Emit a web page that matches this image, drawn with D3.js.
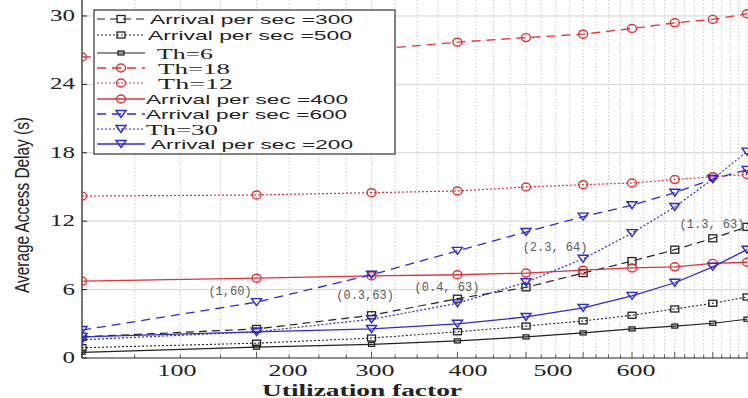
<!DOCTYPE html>
<html>
<head>
<meta charset="utf-8">
<script src="https://cdn.jsdelivr.net/npm/d3@7"></script>
<style>
  html, body { margin: 0; padding: 0; background: #fff; }
  svg { display: block; }
</style>
</head>
<body>
<svg id="chart" width="748" height="398"></svg>
<script>
// ---------------- DATA ----------------
const xCats = [1.5, 2.5, 3.5, 4.5, 5.5, 6.5, 7.5, 8.5, 9.5, 10.5];

const seriesNames = [
  "Arrival per sec =300",
  "Arrival per sec =500",
  "Th=6",
  "Th=18",
  "Th=12",
  "Arrival per sec =400",
  "Arrival per sec =600",
  "Th=30",
  "Arrival per sec =200"
];

const arr300 = [1.85, 2.55, 3.75, 5.2, 6.2, 7.45, 8.5, 9.5, 10.5, 11.5];
const arr500 = [0.9, 1.3, 1.75, 2.3, 2.8, 3.25, 3.75, 4.3, 4.8, 5.35];
const th6    = [0.5, 0.95, 1.2, 1.5, 1.85, 2.2, 2.55, 2.8, 3.05, 3.4];
const th18   = [26.4, 26.75, 27.05, 27.7, 28.1, 28.4, 28.9, 29.4, 29.7, 30.2];
const th12   = [14.2, 14.3, 14.5, 14.65, 15.0, 15.2, 15.35, 15.65, 15.9, 16.1];
const arr400 = [6.75, 7.0, 7.2, 7.3, 7.45, 7.7, 7.9, 8.0, 8.3, 8.4];
const arr600 = [2.45, 4.9, 7.3, 9.4, 11.05, 12.4, 13.4, 14.5, 15.7, 16.5];
const th30   = [1.6, 2.3, 3.4, 4.8, 6.65, 8.7, 10.95, 13.25, 15.7, 18.1];
const arr200 = [1.85, 2.3, 2.55, 3.0, 3.6, 4.4, 5.45, 6.6, 8.0, 9.5];

const seriesValues = [arr300, arr500, th6, th18, th12, arr400, arr600, th30, arr200];

const yTicks = [0, 6, 12, 18, 24, 30];
const xTickValues = [1.981, 2.741, 3.536, 4.642, 5.953, 7.590];
const xTickLabels = ["100", "200", "300", "400", "500", "600"];

const annotationTexts = ["(1,60)", "(0.3,63)", "(0.4, 63)", "(2.3, 64)", "(1.3, 63)"];
const annotationX = [2.313, 3.434, 4.364, 5.988, 9.478];
const annotationY = [5.88, 5.53, 6.23, 9.74, 11.75];

const yTitle = "Average Access Delay (s)";
const xTitle = "Utilization factor";

// ---------------- LAYOUT / STYLE ----------------
const W = 748, H = 398;
const plot = { left: 82, right: 747, top: 0, bottom: 358 };

const RED = "#e63034", BLUE = "#2b2bd6", BLACK = "#222";
const styles = [
  { color: BLACK, dash: "8,5",  marker: "square", mw: 8, mh: 7, sw: 1.2 },
  { color: BLACK, dash: "2,2",  marker: "square", mw: 8, mh: 6, sw: 1.1 },
  { color: BLACK, dash: null,   marker: "square", mw: 6, mh: 4, sw: 1.2 },
  { color: RED,   dash: "9,6",  marker: "circle", mw: 9, mh: 8, sw: 1.3 },
  { color: RED,   dash: "2,2",  marker: "circle", mw: 9, mh: 8, sw: 1.2 },
  { color: RED,   dash: null,   marker: "circle", mw: 9, mh: 8, sw: 1.3 },
  { color: BLUE,  dash: "9,6",  marker: "tri",    mw: 10, mh: 7, sw: 1.3 },
  { color: BLUE,  dash: "2,2",  marker: "tri",    mw: 10, mh: 7, sw: 1.2 },
  { color: BLUE,  dash: null,   marker: "tri",    mw: 10, mh: 7, sw: 1.3 }
];

const svg = d3.select("#chart");
svg.append("rect").attr("width", W).attr("height", H).attr("fill", "#fff");

const x = d3.scaleLog().domain([1.5, 10.5]).range([plot.left, plot.right]);
const y = d3.scaleLinear().domain([0, 31.4]).range([plot.bottom, plot.top]);

svg.append("defs").append("clipPath").attr("id", "clip")
  .append("rect").attr("x", plot.left).attr("y", plot.top)
  .attr("width", W - plot.left).attr("height", plot.bottom - plot.top);

// ---------------- GRID ----------------
const gridVals = d3.range(1.5, 10.76, 0.25);
const grid = svg.append("g");
grid.selectAll("line.v").data(gridVals).join("line")
  .attr("x1", d => x(d)).attr("x2", d => x(d))
  .attr("y1", plot.top).attr("y2", plot.bottom)
  .attr("stroke", "#bdbdbd").attr("stroke-width", 0.8)
  .attr("stroke-dasharray", "1.5,2");
grid.selectAll("line.h").data(yTicks.filter(d => d > 0)).join("line")
  .attr("x1", plot.left).attr("x2", W)
  .attr("y1", d => y(d)).attr("y2", d => y(d))
  .attr("stroke", "#d4d4d4").attr("stroke-width", 1);

// ---------------- AXES ----------------
const axes = svg.append("g");
axes.append("line").attr("x1", plot.left).attr("x2", plot.left)
  .attr("y1", 0).attr("y2", plot.bottom).attr("stroke", "#222").attr("stroke-width", 1.2);
axes.append("line").attr("x1", plot.left).attr("x2", W)
  .attr("y1", plot.bottom).attr("y2", plot.bottom).attr("stroke", "#222").attr("stroke-width", 1.2);

axes.selectAll("line.xt").data(gridVals).join("line")
  .attr("x1", d => x(d)).attr("x2", d => x(d))
  .attr("y1", plot.bottom).attr("y2", (d, i) => plot.bottom - (i % 4 === 0 ? 6 : 3.5))
  .attr("stroke", "#333").attr("stroke-width", 0.8);
axes.selectAll("line.yt").data(yTicks).join("line")
  .attr("x1", plot.left).attr("x2", plot.left + 5)
  .attr("y1", d => y(d)).attr("y2", d => y(d))
  .attr("stroke", "#222").attr("stroke-width", 1);

axes.selectAll("text.yl").data(yTicks).join("text")
  .attr("x", 75).attr("y", d => y(d) + 5)
  .attr("text-anchor", "end")
  .attr("font-family", "Liberation Serif, Times New Roman, serif")
  .attr("font-size", 16).attr("fill", "#222")
  .attr("textLength", d => String(d).length * 12.5)
  .attr("lengthAdjust", "spacingAndGlyphs")
  .text(d => d);

axes.selectAll("text.xl").data(xTickValues).join("text")
  .attr("x", d => x(d) - 19.5).attr("y", 376)
  .attr("font-family", "Liberation Serif, Times New Roman, serif")
  .attr("font-size", 17).attr("fill", "#222")
  .attr("textLength", 39).attr("lengthAdjust", "spacingAndGlyphs")
  .text((d, i) => xTickLabels[i]);

svg.append("text")
  .attr("x", 262).attr("y", 396)
  .attr("font-family", "Liberation Serif, Times New Roman, serif")
  .attr("font-weight", "bold").attr("font-size", 16).attr("fill", "#222")
  .attr("textLength", 200).attr("lengthAdjust", "spacingAndGlyphs")
  .text(xTitle);

svg.append("text")
  .attr("transform", "translate(29,205) scale(1.45,1) rotate(-90)")
  .attr("text-anchor", "middle")
  .attr("font-family", "Liberation Sans, Arial, sans-serif")
  .attr("font-size", 14.5).attr("fill", "#222")
  .attr("textLength", 176).attr("lengthAdjust", "spacingAndGlyphs")
  .text(yTitle);

// ---------------- MARKERS ----------------
function drawMarker(g, style, cx, cy) {
  if (style.marker === "square") {
    g.append("rect").attr("x", cx - style.mw / 2).attr("y", cy - style.mh / 2)
      .attr("width", style.mw).attr("height", style.mh)
      .attr("fill", "none").attr("stroke", style.color).attr("stroke-width", 1.3);
  } else if (style.marker === "circle") {
    g.append("ellipse").attr("cx", cx).attr("cy", cy)
      .attr("rx", style.mw / 2).attr("ry", style.mh / 2)
      .attr("fill", "none").attr("stroke", style.color).attr("stroke-width", 1.4);
  } else {
    const w = style.mw / 2, h = style.mh;
    g.append("path")
      .attr("d", `M${cx - w},${cy - h / 2}L${cx + w},${cy - h / 2}L${cx},${cy + h / 2}Z`)
      .attr("fill", "none").attr("stroke", style.color).attr("stroke-width", 1.4);
  }
}

// ---------------- SERIES ----------------
const plotG = svg.append("g").attr("clip-path", "url(#clip)");
const line = d3.line().x(d => x(d[0])).y(d => y(d[1]));

seriesValues.forEach((vals, i) => {
  const st = styles[i];
  const pts = xCats.map((xv, j) => [xv, vals[j]]);
  const g = plotG.append("g");
  g.append("path").datum(pts).attr("d", line)
    .attr("fill", "none").attr("stroke", st.color)
    .attr("stroke-width", st.sw)
    .attr("stroke-dasharray", st.dash);
  pts.forEach(p => drawMarker(g, st, x(p[0]), y(p[1])));
});

// ---------------- ANNOTATIONS ----------------
svg.append("g").selectAll("text").data(annotationTexts).join("text")
  .attr("x", (d, i) => x(annotationX[i]))
  .attr("y", (d, i) => y(annotationY[i]) + 4)
  .attr("text-anchor", "middle")
  .attr("font-family", "Liberation Mono, Courier New, monospace")
  .attr("font-size", 12).attr("fill", "#5a5a5a")
  .text(d => d);

// ---------------- LEGEND ----------------
const lg = svg.append("g");
lg.append("rect").attr("x", 94).attr("y", 10).attr("width", 301).attr("height", 144)
  .attr("fill", "#fff").attr("stroke", "#333").attr("stroke-width", 1.2);

const legendRowY = [19, 35, 53, 68, 83, 99, 114, 129, 144];
const legendTextX = [150, 148, 157, 158, 158, 146, 146, 146, 151];
const legendTextW = [203, 204, 56, 72, 75, 202, 201, 72, 202];

seriesNames.forEach((name, i) => {
  const st = styles[i];
  const ry = legendRowY[i];
  const isSerif = name.startsWith("Th");
  lg.append("line").attr("x1", 97).attr("x2", 145).attr("y1", ry).attr("y2", ry)
    .attr("stroke", st.color).attr("stroke-width", st.sw)
    .attr("stroke-dasharray", st.dash);
  drawMarker(lg, st, 121, ry);
  lg.append("text")
    .attr("x", legendTextX[i]).attr("y", ry + (isSerif ? 5.5 : 5))
    .attr("font-family", isSerif ? "Liberation Serif, Times New Roman, serif" : "Liberation Sans, Arial, sans-serif")
    .attr("font-size", isSerif ? 15 : 13.5).attr("fill", "#222")
    .attr("textLength", legendTextW[i]).attr("lengthAdjust", "spacingAndGlyphs")
    .text(name);
});
</script>
</body>
</html>
